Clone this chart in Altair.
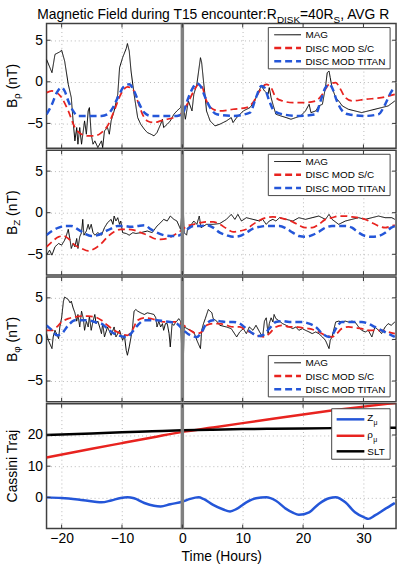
import altair as alt
import pandas as pd

FONT = "Liberation Sans"
W, H = 353, 126
T_DOMAIN = [-22.5, 35.4]
X_TICKS = [-20, -10, 0, 10, 20, 30]
B_TICKS = [-5, 0, 5]
TRAJ_TICKS = [0, 10, 20]

SERIES = ["MAG", "DISC MOD S/C", "DISC MOD TITAN"]
SERIES_COLORS = ["#000000", "#e8231f", "#2456d8"]
SERIES_DASH = [[1, 0], [7, 4], [7, 4]]
SERIES_WIDTH = [1.0, 2.5, 2.5]

# ---------------- Panel 1: B_rho (nT) ----------------
brho_mag = [(-22.5, 2.7), (-21.6, 1.1), (-21.1, 3.3), (-20.3, 3.6), (-20.0, 3.8), (-19.5, 2.5), (-18.9, -0.3),
            (-18.4, -1.9), (-18.1, -4.7), (-17.8, -7.1), (-17.5, -5.5), (-17.3, -7.5), (-17.0, -5.5), (-16.7, -7.5),
            (-16.2, -4.7), (-15.9, -6.3), (-15.6, -3.5), (-15.4, -3.1), (-15.1, -6.3), (-14.8, -7.5), (-14.5, -7.1),
            (-14.0, -7.9), (-13.4, -7.1), (-13.2, -7.9), (-12.9, -5.9), (-12.4, -5.5), (-12.1, -6.3), (-11.8, -4.7),
            (-11.3, -3.5), (-10.7, -1.5), (-10.4, 1.7), (-9.9, 2.9), (-9.3, 4.0), (-9.1, 4.6), (-8.8, 3.7),
            (-8.5, 1.3), (-8.0, -1.5), (-7.4, -4.3), (-6.9, -5.1), (-6.3, -5.7), (-5.8, -6.1), (-5.2, -6.3),
            (-4.7, -6.5), (-4.2, -6.1), (-3.6, -5.1), (-3.3, -4.5), (-3.1, -5.5), (-2.5, -5.1), (-2.0, -4.7),
            (-1.4, -3.9), (-0.9, -3.5), (-0.3, -3.1), (0.0, -2.3), (0.5, -4.5), (1.0, -2.3), (1.6, -3.5),
            (1.9, -1.5), (2.4, -0.3), (2.7, 1.3), (3.0, 2.9), (3.2, 2.3), (3.5, 0.1), (3.8, -1.9), (4.0, -3.5),
            (4.6, -4.7), (5.4, -5.3), (6.2, -5.1), (7.3, -4.7), (8.1, -4.3), (8.4, -4.9), (9.0, -4.3),
            (10.1, -3.5), (11.2, -3.1), (12.0, -2.3), (12.5, -1.3), (13.1, -0.5), (13.6, -1.1), (14.2, -1.5),
            (14.4, -0.7), (14.7, -1.9), (15.0, -2.7), (15.5, -3.9), (16.3, -4.1), (17.2, -4.3), (18.0, -4.5),
            (18.8, -4.3), (19.6, -4.1), (20.4, -3.5), (21.0, -2.7), (21.3, -3.7), (22.1, -3.5), (22.6, -2.9),
            (23.2, -2.7), (23.7, -0.7), (24.0, 1.1), (24.3, 1.3), (24.5, 0.5), (24.8, -0.7), (25.4, -1.9),
            (25.9, -2.3), (26.5, -2.9), (27.5, -3.3), (28.6, -3.5), (29.7, -3.7), (30.8, -3.5), (31.9, -3.3),
            (33.0, -3.1), (34.1, -2.9), (35.2, -2.3)]
brho_sc = [(-22.5, -1.3), (-21.6, -1.1), (-20.8, -1.3), (-20.0, -1.9), (-18.9, -3.5), (-17.8, -5.5), (-16.7, -6.3),
           (-15.6, -6.5), (-14.5, -6.5), (-13.4, -6.1), (-12.4, -5.3), (-11.3, -3.5), (-10.2, -1.5), (-9.1, -0.6),
           (-8.2, -0.9), (-7.4, -2.3), (-6.6, -3.9), (-5.8, -4.7), (-4.7, -4.9), (-3.6, -4.7), (-2.5, -4.5),
           (-1.4, -4.3), (-0.3, -3.9), (0.8, -2.7), (1.9, -1.1), (2.7, -0.3), (3.2, -0.5), (4.0, -2.3),
           (5.1, -3.3), (6.2, -3.5), (8.4, -3.3), (10.6, -3.1), (11.7, -2.5), (12.8, -1.1), (13.9, -0.3),
           (14.7, -0.7), (15.5, -1.9), (16.6, -2.3), (18.3, -2.5), (20.4, -2.5), (22.1, -2.3), (23.2, -1.5),
           (24.3, -0.3), (25.4, -0.1), (26.2, -0.9), (27.0, -1.9), (28.1, -2.3), (30.3, -2.1), (33.0, -1.9),
           (35.2, -1.5)]
brho_titan = [(-22.5, -3.9), (-21.6, -2.7), (-20.8, -1.3), (-20.0, -0.7), (-19.5, -1.1), (-18.9, -2.3), (-18.1, -3.5),
              (-17.3, -4.1), (-15.6, -4.1), (-13.4, -4.1), (-12.4, -3.9), (-11.5, -3.1), (-10.7, -1.9), (-9.6, -0.5),
              (-8.8, -0.3), (-8.0, -1.1), (-7.1, -2.7), (-6.3, -3.7), (-5.2, -4.1), (-2.5, -4.1), (-0.9, -4.1),
              (0.0, -3.9), (0.8, -2.3), (1.6, -0.9), (2.4, -0.2), (3.0, -0.5), (3.8, -1.9), (4.6, -3.1),
              (5.7, -3.9), (8.4, -4.1), (11.2, -3.7), (12.2, -1.9), (13.1, -0.5), (13.6, -0.7), (14.4, -2.3),
              (15.2, -3.5), (16.6, -3.9), (19.3, -4.1), (22.1, -3.9), (22.9, -2.3), (23.7, -0.7), (24.3, -0.3),
              (24.8, -0.7), (25.6, -2.3), (26.5, -3.5), (27.5, -3.9), (30.3, -4.1), (32.5, -3.9), (33.6, -2.7),
              (34.7, -1.1), (35.2, -0.7)]

# ---------------- Panel 2: B_Z (nT) ----------------
bz_mag = [(-22.5, -5.1), (-22.0, -4.5), (-21.6, -5.1), (-21.1, -4.1), (-20.5, -3.7), (-20.0, -3.9), (-19.5, -3.3),
          (-19.2, -2.7), (-18.9, -2.0), (-18.6, -3.3), (-18.4, -4.3), (-18.1, -3.7), (-17.8, -4.1), (-17.5, -3.1),
          (-17.3, -4.3), (-17.0, -2.9), (-16.7, -2.4), (-16.5, -0.8), (-16.3, -2.7), (-15.9, -2.2), (-15.6, -1.4),
          (-15.4, -2.0), (-15.1, -1.4), (-14.8, -2.4), (-14.5, -2.7), (-14.0, -2.4), (-13.4, -2.7), (-12.9, -1.8),
          (-12.4, -1.2), (-11.8, -0.8), (-11.5, -1.4), (-11.3, -0.4), (-11.0, -1.0), (-10.7, -0.6), (-10.4, -1.4),
          (-10.2, -1.0), (-9.9, -2.4), (-9.3, -2.5), (-8.8, -2.7), (-8.2, -2.4), (-7.7, -2.5), (-6.9, -2.4),
          (-5.8, -2.2), (-5.0, -2.4), (-4.2, -1.6), (-3.6, -1.2), (-3.1, -0.8), (-2.5, -1.0), (-2.0, -0.4),
          (-1.4, -0.8), (-0.9, -1.0), (-0.3, -2.0), (0.1, 1.6), (0.3, -2.4), (0.7, -2.7), (0.9, -1.8),
          (1.3, -1.6), (1.9, -1.0), (2.4, -1.4), (2.8, -0.4), (3.1, -1.8), (4.0, -1.4), (5.1, -1.4),
          (6.2, -1.3), (7.3, -0.8), (8.1, -0.2), (8.7, -0.8), (9.2, -0.2), (9.8, -1.0), (10.6, -0.6),
          (11.7, -0.8), (12.8, -1.0), (13.3, -0.8), (13.9, -1.4), (14.4, -1.0), (15.0, -0.8), (15.5, -1.0),
          (16.1, -0.6), (17.2, -0.8), (18.3, -1.0), (19.3, -0.6), (20.4, -0.8), (21.5, -0.6), (22.6, -0.4),
          (23.7, -0.8), (24.3, -0.2), (24.8, -0.8), (25.9, -1.4), (27.0, -1.0), (28.1, -0.8), (29.2, -0.6),
          (30.3, -0.8), (31.4, -0.6), (32.5, -0.4), (33.6, -0.6), (34.7, -0.6), (35.2, -0.8)]
bz_sc = [(-22.5, -4.1), (-21.6, -3.5), (-20.5, -2.9), (-19.7, -2.8), (-18.9, -3.1), (-17.8, -3.9), (-16.7, -4.3),
         (-15.6, -4.6), (-14.5, -4.3), (-13.4, -3.7), (-12.4, -2.9), (-11.3, -2.3), (-10.2, -2.0), (-9.1, -2.0),
         (-8.0, -2.1), (-6.9, -2.4), (-5.8, -2.7), (-4.7, -3.1), (-3.6, -3.2), (-2.5, -3.1), (-1.4, -2.7),
         (-0.3, -2.2), (0.8, -1.6), (1.9, -1.4), (3.0, -1.2), (4.0, -1.1), (5.1, -1.1), (6.2, -1.4), (7.3, -1.9),
         (8.4, -2.3), (9.5, -2.2), (10.6, -2.0), (11.7, -1.4), (12.8, -0.9), (13.9, -0.6), (15.0, -0.5),
         (16.1, -0.6), (17.2, -0.8), (18.3, -1.1), (19.3, -1.5), (20.4, -1.8), (21.5, -1.8), (22.6, -1.4),
         (23.7, -0.8), (24.8, -0.6), (25.9, -0.4), (27.0, -0.4), (28.1, -0.5), (29.2, -0.6), (30.3, -0.8),
         (31.4, -1.2), (32.5, -1.6), (33.6, -1.8), (34.6, -1.6), (35.2, -1.5)]
bz_titan = [(-22.5, -2.7), (-21.6, -2.2), (-20.5, -1.8), (-19.5, -1.6), (-18.4, -1.6), (-17.3, -2.0), (-16.2, -2.5),
            (-15.1, -2.8), (-14.0, -2.7), (-12.9, -2.3), (-11.8, -1.9), (-10.7, -1.6), (-9.6, -1.6), (-8.5, -1.7),
            (-7.4, -1.6), (-6.3, -1.5), (-5.2, -2.0), (-4.2, -2.4), (-3.1, -2.7), (-2.0, -2.8), (-0.9, -2.8),
            (0.0, -2.5), (0.8, -2.0), (1.9, -1.6), (3.0, -1.6), (4.0, -1.5), (5.1, -1.8), (6.2, -2.4), (7.3, -2.7),
            (8.4, -2.9), (9.5, -2.8), (10.6, -2.4), (11.7, -1.9), (12.8, -1.7), (13.9, -1.6), (15.0, -1.6),
            (16.1, -1.6), (17.2, -1.9), (18.3, -2.4), (19.3, -2.8), (20.4, -2.9), (21.5, -2.7), (22.6, -2.3),
            (23.7, -1.8), (24.8, -1.6), (25.9, -1.6), (27.0, -1.6), (28.1, -1.8), (29.2, -2.4), (30.3, -2.8),
            (31.4, -2.9), (32.5, -2.8), (33.6, -2.4), (34.6, -1.8), (35.2, -1.6)]

# ---------------- Panel 3: B_phi (nT) ----------------
bphi_mag = [(-22.5, 0.7), (-22.2, -0.1), (-21.6, -1.1), (-21.4, 0.3), (-21.1, 1.1), (-20.5, 0.1), (-20.3, 1.5),
            (-20.0, 2.6), (-19.7, 4.6), (-19.5, 5.1), (-18.9, 4.8), (-18.6, 4.4), (-18.4, 4.6), (-18.1, 3.8),
            (-17.8, 3.2), (-17.5, 2.2), (-17.3, 3.0), (-17.0, 1.5), (-16.7, 3.4), (-16.4, 2.5), (-16.2, 1.1),
            (-15.9, 2.2), (-15.6, 1.5), (-15.4, 2.8), (-15.1, 1.1), (-14.8, 2.2), (-14.5, 3.0), (-14.3, 1.9),
            (-14.0, 2.2), (-13.7, 1.5), (-13.4, 0.7), (-13.2, 1.9), (-12.9, 0.3), (-12.4, 1.5), (-11.8, 0.5),
            (-11.3, 1.5), (-11.0, 0.3), (-10.4, 1.1), (-9.9, -0.1), (-9.6, 0.5), (-9.3, -1.3), (-9.1, -1.9),
            (-8.8, -0.9), (-8.5, 0.3), (-8.3, 1.1), (-8.0, 3.4), (-7.7, 3.6), (-7.4, 3.4), (-6.9, 3.2),
            (-6.3, 3.0), (-5.8, 3.2), (-5.2, 3.1), (-4.7, 3.0), (-4.4, 2.6), (-4.2, 1.5), (-3.9, 2.2),
            (-3.6, 1.5), (-3.3, 1.9), (-3.1, 1.1), (-2.8, 1.9), (-2.5, 1.9), (-2.2, 0.7), (-2.0, -0.9),
            (-1.7, 1.9), (-1.4, 1.7), (-1.1, 2.1), (-0.9, 2.2), (-0.6, 2.5), (-0.3, 2.2), (0.1, -4.5),
            (0.3, 1.5), (0.8, 1.3), (1.3, 1.1), (1.9, 0.9), (2.4, -0.1), (3.0, -1.1), (3.2, 1.1), (3.5, 1.9),
            (3.8, 2.5), (4.3, 3.6), (4.9, 3.2), (5.1, 2.5), (5.7, 2.2), (6.2, 1.7), (7.3, 1.5), (8.1, 1.3),
            (9.0, 0.3), (9.5, 0.9), (10.1, 1.3), (10.6, 0.7), (11.1, 1.5), (11.7, 1.1), (12.2, 1.7), (12.8, 0.9),
            (13.3, 0.3), (13.6, 2.2), (13.9, 2.6), (14.2, 0.7), (14.4, 1.9), (14.7, 2.6), (15.0, 2.1),
            (15.2, 3.0), (15.5, 2.5), (16.1, 2.2), (16.6, 1.9), (17.2, 1.7), (17.7, 1.5), (18.3, 1.3),
            (18.8, 1.5), (19.3, 1.1), (19.9, 1.3), (20.4, 1.1), (21.0, 0.9), (21.5, 0.7), (22.1, 0.9),
            (22.6, 0.7), (23.2, 0.3), (23.7, -0.1), (24.3, -1.1), (24.5, -0.1), (24.8, 0.3), (25.4, 2.1),
            (25.9, 2.2), (26.4, 2.1), (27.0, 2.2), (27.5, 2.1), (28.1, 2.2), (28.6, 2.1), (29.2, 1.5),
            (29.7, 1.1), (30.3, 0.9), (30.8, 1.1), (31.4, 0.3), (31.9, 1.5), (32.5, 1.1), (33.0, 0.7),
            (33.6, 1.5), (34.1, 1.9), (34.6, 1.7), (35.2, 2.1)]
bphi_sc = [(-22.5, 1.1), (-21.6, 1.1), (-20.8, 1.5), (-20.0, 2.1), (-18.9, 2.5), (-17.8, 2.7), (-16.7, 2.8),
           (-15.6, 2.8), (-14.5, 2.7), (-13.4, 2.3), (-12.4, 1.7), (-11.3, 1.1), (-10.2, 0.7), (-9.1, 0.5),
           (-8.3, 1.1), (-7.4, 2.3), (-6.3, 2.6), (-5.2, 2.5), (-4.2, 2.3), (-3.1, 2.1), (-2.0, 2.1), (-0.9, 2.1),
           (0.2, 1.7), (1.3, 1.1), (2.4, 0.7), (3.2, 0.9), (4.0, 1.7), (5.1, 1.9), (6.2, 1.9), (7.3, 1.7),
           (8.4, 1.5), (9.5, 1.5), (10.6, 1.1), (11.7, 0.7), (12.8, 0.4), (13.6, 0.3), (14.4, 0.7), (15.5, 1.5),
           (16.6, 1.7), (17.7, 1.5), (18.8, 1.5), (19.9, 1.4), (21.0, 1.3), (22.6, 0.9), (23.7, 0.5), (24.8, 0.3),
           (25.6, 0.7), (26.4, 1.3), (27.5, 1.5), (28.6, 1.4), (29.7, 1.3), (30.8, 1.1), (31.9, 1.1), (33.0, 1.1),
           (34.1, 0.9), (35.2, 0.7)]
bphi_titan = [(-22.5, 1.7), (-21.6, 1.1), (-20.8, 0.5), (-20.0, 0.7), (-18.9, 1.7), (-17.8, 2.3), (-16.7, 2.3),
              (-15.6, 2.3), (-14.5, 2.1), (-13.4, 1.9), (-12.4, 1.3), (-11.3, 0.7), (-10.2, 0.4), (-9.1, 0.3),
              (-8.3, 0.9), (-7.4, 1.7), (-6.3, 2.3), (-5.2, 2.3), (-4.2, 2.3), (-3.1, 2.2), (-2.0, 2.1), (-0.9, 1.9),
              (0.2, 1.1), (1.3, 0.5), (2.4, 0.3), (3.2, 0.9), (4.0, 1.9), (5.1, 2.3), (6.2, 2.2), (7.3, 2.1),
              (8.4, 2.1), (9.5, 1.9), (10.6, 1.3), (11.7, 0.7), (12.5, 0.4), (13.3, 0.5), (14.4, 1.3), (15.5, 2.1),
              (16.6, 2.2), (17.7, 2.1), (18.8, 2.1), (19.9, 2.1), (21.0, 1.9), (22.1, 1.5), (23.2, 0.7), (24.3, 0.3),
              (24.8, 0.5), (25.6, 1.5), (26.4, 2.1), (27.5, 2.1), (28.6, 2.1), (29.7, 2.1), (30.8, 1.9), (31.9, 1.5),
              (33.0, 1.1), (34.1, 0.7), (35.2, 0.3)]

# ---------------- Panel 4: Cassini trajectory ----------------
traj_names = ["Z_mu", "rho_mu", "SLT"]
traj_colors = ["#2456d8", "#e8231f", "#000000"]
z_mu = [(-22.5, 0.0), (-20.0, -0.2), (-17.3, -0.7), (-14.5, -1.4), (-13.4, -1.6), (-11.8, -1.0), (-10.2, -0.2),
        (-9.1, 0.0), (-8.0, -0.3), (-6.3, -1.8), (-4.7, -2.7), (-3.6, -2.9), (-2.0, -2.2), (0.0, -1.4),
        (1.3, -0.5), (2.7, 0.0), (3.5, -0.5), (5.1, -2.4), (6.8, -3.9), (7.9, -4.5), (9.0, -3.7), (10.6, -1.6),
        (12.2, -0.3), (13.9, 0.0), (15.5, -1.1), (17.2, -3.7), (18.3, -4.9), (19.3, -5.6), (21.0, -4.8),
        (22.6, -2.1), (24.3, -0.3), (25.4, 0.0), (27.0, -1.6), (28.6, -4.8), (30.3, -6.6), (30.8, -6.9),
        (31.9, -5.8), (33.6, -3.7), (35.2, -1.8)]
rho_mu = [(-22.5, 12.8), (-15.0, 15.6), (-10.0, 17.4), (-5.0, 19.2), (0.0, 21.0), (5.0, 22.4), (10.0, 23.8),
          (15.0, 25.2), (20.0, 26.6), (25.0, 27.9), (30.0, 29.1), (35.4, 30.3)]
slt = [(-22.5, 20.0), (-15.0, 20.5), (-10.0, 20.9), (-5.0, 21.2), (0.0, 21.5), (5.0, 21.7), (10.0, 21.9),
       (15.0, 22.0), (20.0, 22.1), (25.0, 22.2), (30.0, 22.3), (35.4, 22.3)]


def to_frame(series_map):
    rows = []
    for name, pairs in series_map.items():
        for t, v in pairs:
            rows.append({"series": name, "t": t, "v": v})
    return pd.DataFrame(rows)


ONE = pd.DataFrame({"k": [0]})


def text_piece(txt, x, y, size=14, angle=0, align="left", baseline="alphabetic"):
    return alt.Chart(ONE).mark_text(
        text=txt, font=FONT, fontSize=size, angle=angle, align=align, baseline=baseline, color="black"
    ).encode(x=alt.value(x), y=alt.value(y))


def x_channel(bottom):
    if bottom:
        ax = alt.Axis(values=X_TICKS, title="Time (Hours)", labelPadding=3, titlePadding=4)
    else:
        ax = alt.Axis(values=X_TICKS, labels=False, title=None)
    return alt.X("t:Q", scale=alt.Scale(domain=T_DOMAIN, nice=False, zero=False), axis=ax)


def y_channel(domain, ticks):
    return alt.Y("v:Q", scale=alt.Scale(domain=domain, nice=False, zero=False),
                 axis=alt.Axis(values=ticks, title=None, labelPadding=4))


def decorations(bottom, domain, yticks):
    """Zero-time marker and inward frame ticks, sharing the panel's scales."""
    xt = pd.DataFrame({"t": X_TICKS})
    yt = pd.DataFrame({"v": yticks})
    xc = x_channel(bottom)
    yc = y_channel(domain, yticks)
    base_x = alt.Chart(xt).mark_rule(color="#333333", strokeWidth=1)
    base_y = alt.Chart(yt).mark_rule(color="#333333", strokeWidth=1)
    return [
        alt.Chart(pd.DataFrame({"t": [0]})).mark_rule(color="#808080", strokeWidth=3.5).encode(x=xc),
        base_x.encode(x=xc, y=alt.value(0), y2=alt.value(4)),
        base_x.encode(x=xc, y=alt.value(H), y2=alt.value(H - 4)),
        base_y.encode(y=yc, x=alt.value(0), x2=alt.value(4)),
        base_y.encode(y=yc, x=alt.value(W - 4), x2=alt.value(W)),
    ]


def ytitle_b(sub, sub_w):
    XB = -30
    total = 9.3 + sub_w + 29.6
    y0 = H / 2 + total / 2
    return [
        text_piece("B", XB, y0, 14, 270),
        text_piece(sub, XB + 3.5, y0 - 9.3, 10, 270),
        text_piece("(nT)", XB, y0 - 9.3 - sub_w - 3.9, 14, 270),
    ]


def b_legend(top):
    """Boxed legend drawn inside the panel; top = y of the box's upper edge."""
    rows = [top + 7.3, top + 20.7, top + 34.0]
    layers = [alt.Chart(ONE).mark_rect(fill="white", stroke="#444444", strokeWidth=1).encode(
        x=alt.value(224), x2=alt.value(347), y=alt.value(top), y2=alt.value(top + 41.7))]
    for name, col, dash, wid, ry in zip(SERIES, SERIES_COLORS, SERIES_DASH, SERIES_WIDTH, rows):
        layers.append(alt.Chart(ONE).mark_rule(color=col, strokeWidth=wid, strokeDash=dash).encode(
            x=alt.value(230), x2=alt.value(257), y=alt.value(ry)))
        layers.append(text_piece(name, 261.5, ry + 3.6, 10))
    return layers


def b_panel(series_map, domain, legend_top, sub, sub_w, extra=None):
    df = to_frame(series_map)
    enc = dict(
        x=x_channel(False),
        y=y_channel(domain, B_TICKS),
        color=alt.Color("series:N", scale=alt.Scale(domain=SERIES, range=SERIES_COLORS), legend=None),
        strokeDash=alt.StrokeDash("series:N", scale=alt.Scale(domain=SERIES, range=SERIES_DASH), legend=None),
        strokeWidth=alt.StrokeWidth("series:N", scale=alt.Scale(domain=SERIES, range=SERIES_WIDTH), legend=None),
    )
    mag = alt.Chart(df).transform_filter(alt.datum.series == "MAG").mark_line(clip=True).encode(**enc)
    mods = alt.Chart(df).transform_filter(alt.datum.series != "MAG").mark_line(
        clip=True, interpolate="monotone").encode(**enc)
    layers = [mag, mods] + decorations(False, domain, B_TICKS) + b_legend(legend_top) + ytitle_b(sub, sub_w)
    if extra:
        layers += extra
    return alt.layer(*layers).properties(width=W, height=H)


title_layers = [
    text_piece("Magnetic Field during T15 encounter:R", -9.3, -5, 14),
    text_piece("DISK", 232.7, -1, 10),
    text_piece("=40R", 256.0, -5, 14),
    text_piece("S", 289.9, -1, 10),
    text_piece(", AVG R", 296.6, -5, 14),
]

p1 = b_panel({"MAG": brho_mag, "DISC MOD S/C": brho_sc, "DISC MOD TITAN": brho_titan},
             [-8, 7], 4, "ρ", 5.8, extra=title_layers)
p2 = b_panel({"MAG": bz_mag, "DISC MOD S/C": bz_sc, "DISC MOD TITAN": bz_titan},
             [-7.5, 7.5], 4, "Z", 6.1)
p3 = b_panel({"MAG": bphi_mag, "DISC MOD S/C": bphi_sc, "DISC MOD TITAN": bphi_titan},
             [-7.5, 7.5], H - 5 - 41.7, "φ", 6.5)

# Panel 4
traj_df = to_frame({"Z_mu": z_mu, "rho_mu": rho_mu, "SLT": slt})
traj_lines = alt.Chart(traj_df).mark_line(clip=True, interpolate="monotone", strokeWidth=2.5).encode(
    x=x_channel(True),
    y=y_channel([-10, 30], TRAJ_TICKS),
    color=alt.Color("series:N", scale=alt.Scale(domain=traj_names, range=traj_colors), legend=None),
)

legend_rows = [15.7, 32.3, 48.0]
traj_legend = [
    alt.Chart(ONE).mark_rect(fill="white", stroke="#444444", strokeWidth=1).encode(
        x=alt.value(288), x2=alt.value(347), y=alt.value(5), y2=alt.value(56)),
]
for rowy, col in zip(legend_rows, traj_colors):
    traj_legend.append(alt.Chart(ONE).mark_rule(color=col, strokeWidth=2.5).encode(
        x=alt.value(293), x2=alt.value(321), y=alt.value(rowy)))
traj_legend += [
    text_piece("Z", 324, legend_rows[0] + 2, 10),
    text_piece("μ", 330.2, legend_rows[0] + 6, 7),
    text_piece("ρ", 324, legend_rows[1] + 2, 10),
    text_piece("μ", 329.9, legend_rows[1] + 6, 7),
    text_piece("SLT", 324, legend_rows[2] + 3.5, 10),
]

p4 = alt.layer(
    traj_lines, *decorations(True, [-10, 30], TRAJ_TICKS), *traj_legend,
    text_piece("Cassini Traj", -30, H / 2, 14, 270, align="center"),
).properties(width=W, height=H)

chart = alt.vconcat(p1, p2, p3, p4, spacing=2, bounds="flush").resolve_scale(
    x="independent", y="independent", color="independent",
    strokeDash="independent", strokeWidth="independent",
).properties(
    padding={"left": 5, "top": 4, "right": 2, "bottom": 0}, background="white"
).configure_axis(
    labelFont=FONT, labelFontSize=14, labelColor="black", titleFont=FONT, titleFontSize=14,
    titleFontWeight="normal", titleColor="black", domain=False, ticks=False, grid=True,
    gridColor="#b8b8b8", gridDash=[1, 3], gridWidth=1,
).configure_view(stroke="#404040", strokeWidth=1.5)

chart.save("out.html", embed_options={"renderer": "svg", "actions": False})
